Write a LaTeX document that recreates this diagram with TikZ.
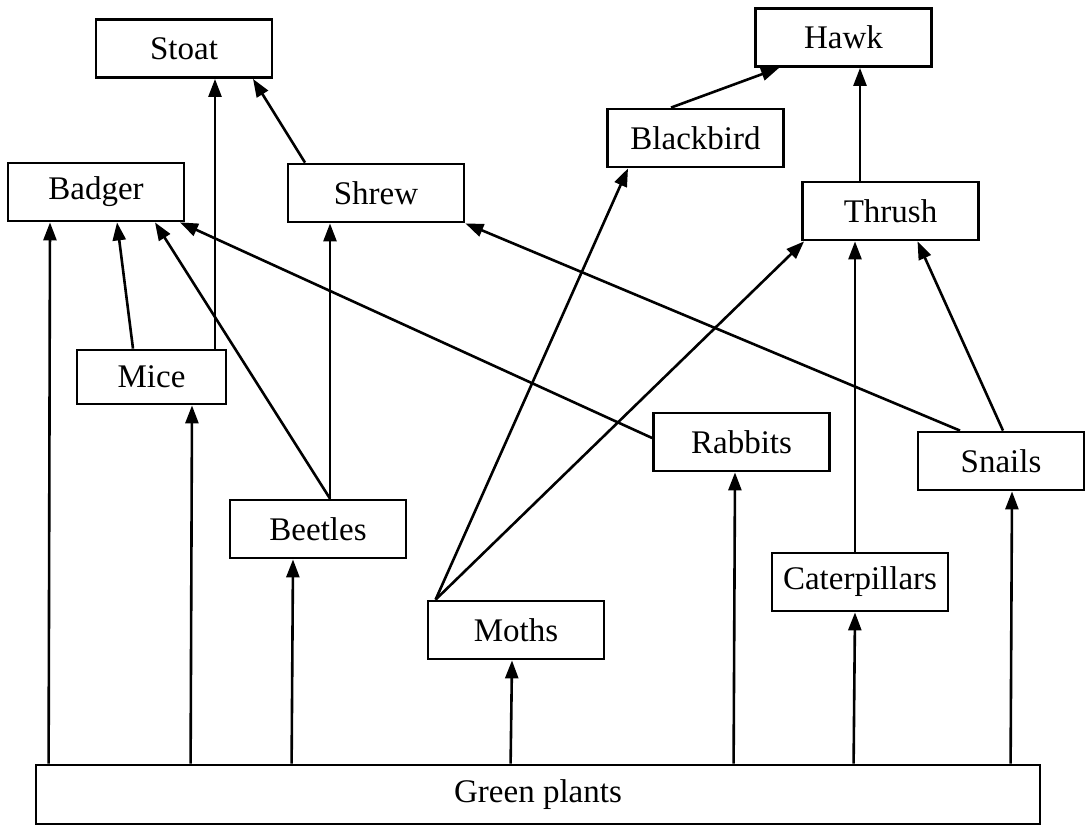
\documentclass[tikz,border=0pt]{standalone}
\usepackage{fontspec}
\setmainfont{Liberation Serif}
\usepackage{tikz}
\usetikzlibrary{arrows.meta, positioning}

\begin{document}
\begin{tikzpicture}[
    x=1pt, y=-1pt,
    animal/.style={rectangle, draw, line width=2.8pt, minimum width=176pt, minimum height=58pt, inner sep=0pt, font=\fontsize{33}{38}\selectfont},
    arrow/.style={-{Triangle[length=18pt, width=13pt]}, line width=2.6pt},
    link/.style={line width=2.6pt}
]
\useasboundingbox (0,0) rectangle (1086,826);

% Top predators
\node[animal] (stoat) at (184,48.5) {Stoat};
\node[animal] (hawk) at (843.5,37.5) {Hawk};
\node[animal] (blackbird) at (695.5,138) {Blackbird};

% Second level
\node[animal] (badger) at (96,192) {Badger};
\node[animal] (shrew) at (376,193) {Shrew};
\node[animal] (thrush) at (890.5,211) {Thrush};

% Herbivores
\node[animal, minimum width=149pt, minimum height=54pt] (mice) at (151.5,377) {Mice};
\node[animal] (rabbits) at (741.5,442) {Rabbits};
\node[animal, minimum width=166pt] (snails) at (1001,461) {Snails};
\node[animal] (beetles) at (318,529) {Beetles};
\node[animal] (caterpillars) at (860,582) {Caterpillars};
\node[animal] (moths) at (516,630) {Moths};

% Producers
\node[animal, minimum width=1004pt, minimum height=59pt] (green) at (538,794.5) {Green plants};

% Arrows from green plants
\draw[arrow] ([xshift=14pt]green.north west) -- ([xshift=-46pt]badger.south);
\draw[arrow] ([xshift=156pt]green.north west) -- ([xshift=40.5pt]mice.south);
\draw[arrow] ([xshift=257pt]green.north west) -- ([xshift=-25pt]beetles.south);
\draw[arrow] ([xshift=476pt]green.north west) -- ([xshift=-4pt]moths.south);
\draw[arrow] ([xshift=699pt]green.north west) -- ([xshift=-6.5pt]rabbits.south);
\draw[arrow] ([xshift=819pt]green.north west) -- ([xshift=-5pt]caterpillars.south);
\draw[arrow] ([xshift=976pt]green.north west) -- ([xshift=11pt]snails.south);

% Arrows to badger and stoat
\draw[arrow] ([xshift=-18.5pt]mice.north) -- ([xshift=21pt]badger.south);
\draw[arrow] ([xshift=63.5pt]mice.north) -- ([xshift=31pt]stoat.south);
\draw[arrow] ([xshift=12pt]beetles.north) -- ([xshift=59pt]badger.south);
\draw[arrow] ([xshift=12pt]beetles.north) -- ([xshift=-46pt]shrew.south);
\draw[arrow] ([yshift=4pt]rabbits.west) -- ([xshift=84pt]badger.south);
\draw[arrow] ([xshift=-71pt]shrew.north) -- ([xshift=69pt]stoat.south);

% Arrows to shrew and thrush
\draw[arrow] ([xshift=-41pt]snails.north) -- (shrew.south east);
\draw[arrow] ([xshift=2pt]snails.north) -- ([xshift=27pt]thrush.south);
\draw[arrow] ([xshift=-5pt]caterpillars.north) -- ([xshift=-35.5pt]thrush.south);
\draw[arrow] ([xshift=9pt]moths.north west) -- ([xshift=3pt]thrush.south west);
\draw[arrow] ([xshift=9pt]moths.north west) -- ([xshift=-67.5pt]blackbird.south);

% Arrows to hawk
\draw[arrow] ([xshift=-30.5pt]thrush.north) -- ([xshift=16.5pt]hawk.south);
\draw[arrow] ([xshift=-24.5pt]blackbird.north) -- ([xshift=25pt]hawk.south west);

\end{tikzpicture}
\end{document}
